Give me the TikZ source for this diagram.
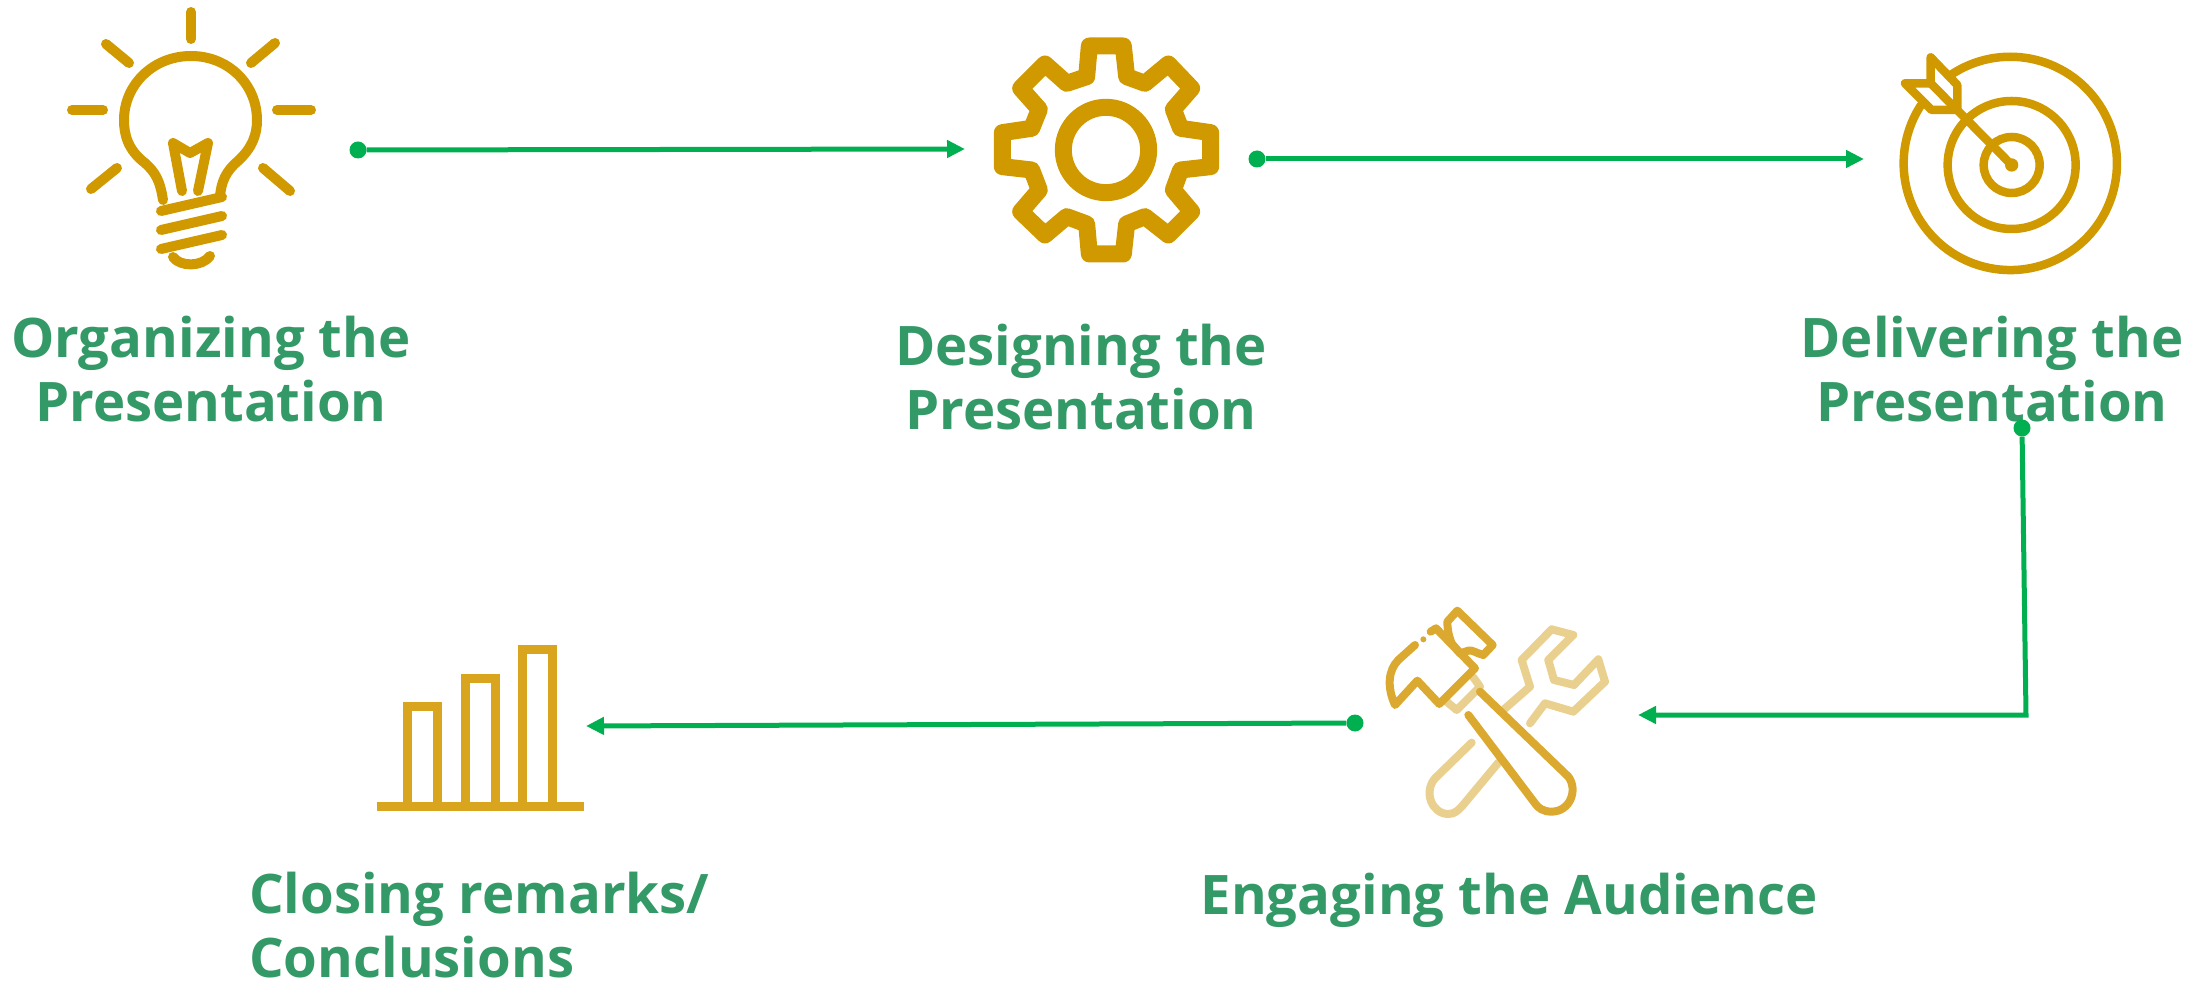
\documentclass[tikz,border=0pt]{standalone}
\usepackage{fontspec}
\setmainfont{Open Sans}
\usepackage{xcolor}
\usetikzlibrary{arrows.meta}
\definecolor{IconGold}{HTML}{D19900}
\definecolor{HammerGold}{HTML}{DBA92F}
\definecolor{WrenchGold}{HTML}{EAD08F}
\definecolor{BarGold}{HTML}{D9A41E}
\definecolor{FlowGreen}{HTML}{00B050}
\definecolor{LabelGreen}{HTML}{339966}
\tikzset{
    steplabel/.style={
        text=LabelGreen, font=\fontsize{54.5}{64}\selectfont\bfseries, align=center, inner sep=0pt
    },
    flowdot/.style={
        circle, fill=FlowGreen, minimum size=17pt, inner sep=0pt
    },
    flow/.style={
        -{Stealth[length=18pt,width=17pt,inset=0pt]}, FlowGreen, line width=5pt
    },
    iconline/.style={
        line width=10pt, line cap=round, line join=round, IconGold
    }
}
\begin{document}
\begin{tikzpicture}[x=1pt, y=-1pt]
    \useasboundingbox (0,0) rectangle (2204,981);

    % --- 1. BULB ---
    \begin{scope}[iconline]
        \draw (191,12) -- (191,39);
        \draw (106,44) -- (129,63);
        \draw (275,43) -- (251,63);
        \draw (72,110) -- (103,110);
        \draw (277,110) -- (311,110);
        \draw (117,168) -- (91,189);
        \draw (263,168) -- (290,191);
        \draw (163,200) .. controls (160,180) and (155,172) .. (145,163)
            .. controls (128,150) and (124,135) .. (124,120)
            .. controls (124,85) and (153,56) .. (191,56)
            .. controls (229,56) and (257,85) .. (257,120)
            .. controls (257,135) and (252,148) .. (238,161)
            .. controls (226,171) and (221,182) .. (220,197);
        \draw (161,211) -- (222,197);
        \draw (161,230) -- (222,216);
        \draw (161,249) -- (222,235);
        \draw (173,257) .. controls (180,267) and (202,267) .. (210,256);
        \draw (182,191) -- (173,143) -- (190,153) -- (208,143) -- (198,191);
    \end{scope}

    % --- 2. GEAR ---
    \begin{scope}[shift={(970,20)}, x=0.3333pt, y=-0.3333pt]
        \draw[iconline, line width=17pt] (358,78) -- (460,78) -- (470,170) -- (525,190)
            -- (595,132) -- (665,205) -- (610,268) -- (632,325) -- (722,338)
            -- (722,440) -- (632,450) -- (610,510) -- (665,575) -- (595,645)
            -- (525,590) -- (470,612) -- (460,702) -- (358,702) -- (350,612)
            -- (290,590) -- (225,645) -- (152,575) -- (208,510) -- (185,450)
            -- (97,440) -- (97,338) -- (185,325) -- (208,268) -- (152,205)
            -- (225,132) -- (290,190) -- (350,170) -- cycle;
        \draw[iconline, line width=17pt] (408,390) circle[radius=128];
    \end{scope}

    % --- 3. TARGET ---
    \begin{scope}[shift={(1860,30)}, x=0.3333pt, y=-0.3333pt, iconline, line width=8.5pt]
        \draw (272,135) arc[start angle=236, end angle=573, radius=320];
        \draw (455,405) circle[radius=192];
        \draw (455,405) circle[radius=84];
        \fill (455,405) circle[radius=20];
        \draw (455,405) -- (212,160);
        \draw (212,82) -- (292,165) -- (292,240) -- (215,240) -- (135,160) -- (212,160) -- cycle;
    \end{scope}

    % --- 4. TOOLS ---
    \begin{scope}[shift={(1360,590)}, x=0.3333pt, y=-0.3333pt, iconline, line width=8pt, WrenchGold]
        \draw (335,458) -- (225,565) .. controls (190,605) and (215,672) .. (265,672)
            .. controls (285,672) and (295,660) .. (305,650) -- (415,518);
        \draw (430,360) -- (510,290) -- (485,210) -- (575,118) -- (640,135) -- (565,210)
            -- (582,270) -- (642,285) -- (715,208) -- (735,275) -- (640,365)
            -- (555,340) -- (510,400);
        \draw (260,335) -- (290,360) -- (360,290) -- (340,262);
    \end{scope}
    \begin{scope}[shift={(1360,590)}, x=0.3333pt, y=-0.3333pt, iconline, line width=8pt, HammerGold]
        \draw (165,165) -- (115,210) .. controls (85,240) and (80,290) .. (105,345)
            -- (172,272) -- (238,342) -- (345,235) -- (228,115) -- (212,125);
        \fill (190,148) circle[radius=9];
        \draw (275,160) .. controls (265,135) and (262,115) .. (262,95) -- (292,62)
            -- (398,165) -- (370,195) .. controls (350,190) and (335,178) .. (325,182)
            -- (300,190) -- (275,160);
        \draw (360,305) -- (625,560) .. controls (655,600) and (630,665) .. (575,665)
            .. controls (550,665) and (535,655) .. (525,640) -- (325,375);
    \end{scope}

    % --- 5. BARS ---
    \begin{scope}[shift={(350,630)}, x=0.3333pt, y=-0.3333pt, line width=9pt, BarGold]
        \draw (80,531) -- (702,531);
        \draw (173,531) |- (263,231) -- (263,531);
        \draw (346,531) |- (436,145) -- (436,531);
        \draw (519,531) |- (609,57) -- (609,531);
    \end{scope}

    % --- LABELS ---
    \node[steplabel] (organizing) at (211,369) {Organizing the\\Presentation};
    \node[steplabel] (designing) at (1081,377) {Designing the\\Presentation};
    \node[steplabel] (delivering) at (1992,369) {Delivering the\\Presentation};
    \node[steplabel] (engaging) at (1509,900) {Engaging the Audience};
    \node[steplabel, align=left, anchor=west] (closing) at (249,925) {Closing remarks/\\Conclusions};

    % --- CONNECTORS ---
    \node[flowdot] (dotone) at (358,150) {};
    \node[flowdot] (dottwo) at (1257,159) {};
    \node[flowdot] (dotthree) at (2022,428) {};
    \node[flowdot] (dotfour) at (1355,723) {};
    \coordinate (gearin) at (965,149);
    \coordinate (targetin) at (1864,159);
    \coordinate (corner) at (2026,715);
    \coordinate (toolsin) at (1638,715);
    \coordinate (barsin) at (586,726);

    \draw[flow] (dotone) -- (gearin);
    \draw[flow] (dottwo) -- (targetin);
    \draw[flow] (dotthree) -- (corner) -- (toolsin);
    \draw[flow] (dotfour) -- (barsin);
\end{tikzpicture}
\end{document}
